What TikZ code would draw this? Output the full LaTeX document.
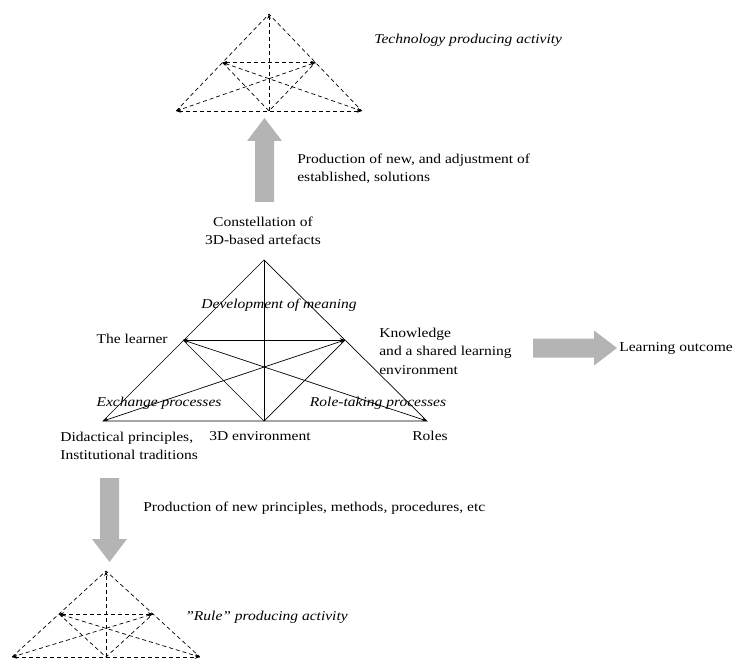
\documentclass[tikz,border=0pt]{standalone}
\usepackage{fontspec}
\setmainfont{Liberation Serif}[FakeStretch=1.15]
\usetikzlibrary{arrows.meta}
\definecolor{arrowgray}{RGB}{180,180,180}

\begin{document}
\begin{tikzpicture}[x=1pt,y=-1pt,line width=0.7pt,
  >={Stealth[length=5pt,width=3.5pt]},
  dsh/.style={dash pattern=on 4pt off 3pt},
  lbl/.style={font=\fontsize{13.5}{18.5}\selectfont, inner sep=0pt},
  lbli/.style={font=\fontsize{13.5}{18.5}\selectfont\itshape, inner sep=0pt},
  minitri/.pic={
    \coordinate (-t) at (0,-1);
    \coordinate (-l) at (-1,0);
    \coordinate (-m) at (0,0);
    \coordinate (-r) at (1,0);
    \coordinate (-ml) at (-0.5,-0.5);
    \coordinate (-mr) at (0.5,-0.5);
    \draw[dsh] (-l) -- (-t) -- (-r);
    \draw[dsh,<->] (-l) -- (-r);
    \draw[dsh,->] (-m) -- (-t);
    \draw[dsh,<->] (-ml) -- (-mr);
    \draw[dsh,<->] (-ml) -- (-r);
    \draw[dsh,<->] (-mr) -- (-l);
    \draw[dsh] (-ml) -- (-m) -- (-mr);
  },
  bigarrow/.pic={
    \fill[arrowgray] (0,-9.5) -- (61,-9.5) -- (61,-17.5) -- (84,0)
      -- (61,17.5) -- (61,9.5) -- (0,9.5) -- cycle;
  }]
\useasboundingbox (0,0) rectangle (741,668);

% Main triangle
\coordinate (apex) at (264,260);
\coordinate (dp) at (103,421);
\coordinate (env) at (264,421);
\coordinate (rl) at (427,421);
\coordinate (lrn) at (183,340);
\coordinate (kn) at (345,340);
\draw (dp) -- (apex) -- (rl) -- cycle;
\draw (apex) -- (env);
\draw[<->] (lrn) -- (kn);
\draw[<->] (lrn) -- (rl);
\draw[<->] (kn) -- (dp);
\draw (lrn) -- (env) -- (kn);

% Small triangles
\pic (tech) [xscale=93,yscale=97] at (269,111) {minitri};
\pic (rule) [xscale=94,yscale=86] at (106,657) {minitri};

% Gray arrows
\pic (up) [rotate=90] at (264.5,202) {bigarrow};
\pic (out) at (533,348) {bigarrow};
\pic (down) [rotate=-90] at (109.5,478) {bigarrow};

% Labels
\node[lbl,align=center] (const) at (263,231) {Constellation of\\3D-based artefacts};
\node[lbli] (meaning) at (279,305) {Development of meaning};
\node[lbl,anchor=east] (learner) at (168,339) {The learner};
\node[lbl,anchor=west,align=left] (know) at (379,351) {Knowledge\\and a shared learning\\environment};
\node[lbli] (exch) at (159,403) {Exchange processes};
\node[lbli] (roletak) at (378,403) {Role-taking processes};
\node[lbl,anchor=west,align=left] (didact) at (60,446) {Didactical principles,\\Institutional traditions};
\node[lbl] (env3d) at (260,436) {3D environment};
\node[lbl] (roles) at (430,436) {Roles};
\node[lbl,anchor=west] (outcome) at (619,348) {Learning outcome};
\node[lbl,anchor=west,align=left] (prodsol) at (297,169) {Production of new, and adjustment of\\established, solutions};
\node[lbl,anchor=west] (prodprin) at (143,508) {Production of new principles, methods, procedures, etc};
\node[lbli,anchor=west] (techact) at (374,40) {Technology producing activity};
\node[lbli,anchor=west] (ruleact) at (185,617) {''Rule'' producing activity};
\end{tikzpicture}
\end{document}
